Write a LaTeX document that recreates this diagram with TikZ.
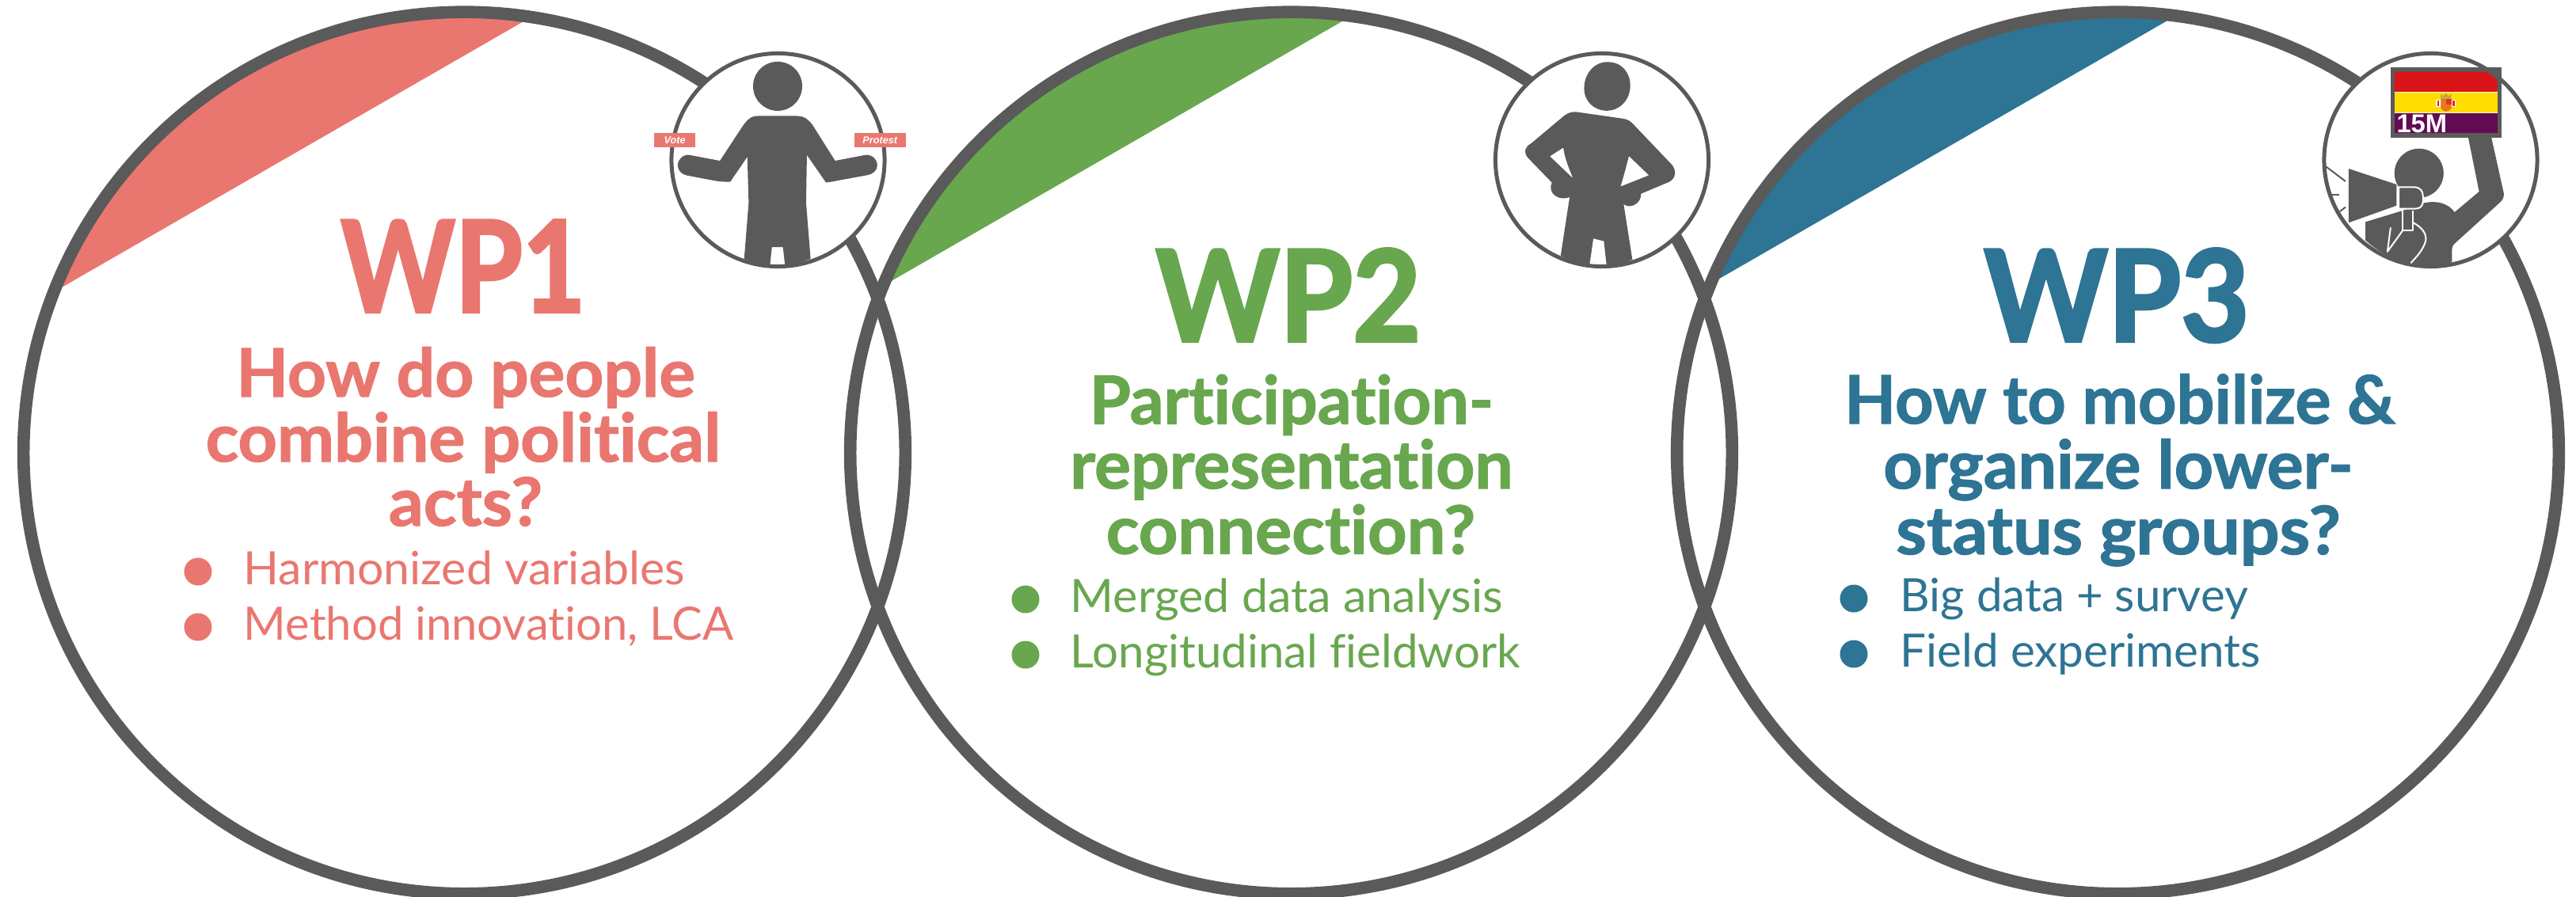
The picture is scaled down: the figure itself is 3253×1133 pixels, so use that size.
\documentclass[tikz,border=0pt]{standalone}
\usepackage{fontspec}
\usepackage{graphicx}
\newfontfamily\wplato{Lato}[Ligatures=NoCommon]
\newfontfamily\wpfat{Lato}[Ligatures=NoCommon,BoldFeatures={FakeBold=1.5}]
\newfontfamily\wpfatter{Lato}[Ligatures=NoCommon,BoldFeatures={FakeBold=2.5}]
\newfontfamily\wparial{Liberation Sans}
\definecolor{wpgrey}{HTML}{5A5A5A}
\definecolor{wppink}{HTML}{E97770}
\definecolor{wpgreen}{HTML}{68A74E}
\definecolor{wpblue}{HTML}{2E7494}
\newcommand{\fitx}[2]{\setbox0=\hbox{#2}\pgfmathsetmacro\fitr{#1*0.28453/\the\wd0}\scalebox{\fitr}[1]{\box0}}
\newcommand{\wpwedge}[3]{%
  \begin{scope}
    \clip (#1,572) circle [radius=5.565cm];
    \fill[#2] ({#1-586.5-22},{420.6+#3}) -- ({#1-586.5+756},{-27.6+#3}) -- ({#1-586.5-40},-60) -- cycle;
  \end{scope}}
\tikzset{
  bigring/.style={draw=wpgrey,line width=0.156cm},
  smallring/.style={draw=wpgrey,line width=0.05cm,fill=white},
  wptitle/.style={anchor=base,inner sep=0pt,font=\wpfatter\bfseries\fontsize{45.5}{45.5}\selectfont},
  wpq/.style={anchor=base,inner sep=0pt,font=\wpfat\bfseries\fontsize{24}{24}\selectfont},
  wpitem/.style={anchor=base west,inner sep=0pt,font=\wplato\fontsize{16.5}{16.5}\selectfont},
  iconfill/.style={fill=wpgrey},
  tagbox/.style={fill=wppink,inner sep=0pt,text=white,font=\wparial\bfseries\itshape\fontsize{3.6}{3.6}\selectfont},
  whiteline/.style={draw=white,line width=0.02cm,line join=round}
}
\begin{document}
\begin{tikzpicture}[x=0.01cm,y=-0.01cm]
\useasboundingbox (0,0) rectangle (3253,1133);
% wedges
\wpwedge{586.5}{wppink}{0}
\wpwedge{1630.5}{wpgreen}{-6}
\wpwedge{2674.5}{wpblue}{-8}
% big rings
\draw[bigring] (586.5,572) circle [radius=5.565cm];
\draw[bigring] (1630.5,572) circle [radius=5.565cm];
\draw[bigring] (2674.5,572) circle [radius=5.565cm];
% WP1 text
\node[wptitle,text=wppink] (wpa) at (585,394) {\fitx{309}{WP1}};
\node[wpq,text=wppink] (qa1) at (588,501) {\fitx{579}{How do people}};
\node[wpq,text=wppink] (qa2) at (585,583) {\fitx{650}{combine political}};
\node[wpq,text=wppink] (qa3) at (588,664) {\fitx{194}{acts?}};
\fill[wppink] (250,722) circle [radius=0.175cm];
\fill[wppink] (250,792) circle [radius=0.175cm];
\node[wpitem,text=wppink] (ia1) at (307,738) {\fitx{557}{Harmonized variables}};
\node[wpitem,text=wppink] (ia2) at (307,808) {\fitx{618}{Method innovation, LCA}};
% WP2 text
\node[wptitle,text=wpgreen] (wpb) at (1627,431) {\fitx{335}{WP2}};
\node[wpq,text=wpgreen] (qb1) at (1631,535.5) {\fitx{510}{Participation-}};
\node[wpq,text=wpgreen] (qb2) at (1631,617) {\fitx{559}{representation}};
\node[wpq,text=wpgreen] (qb3) at (1630,699.5) {\fitx{466}{connection?}};
\fill[wpgreen] (1295,757) circle [radius=0.175cm];
\fill[wpgreen] (1295,827) circle [radius=0.175cm];
\node[wpitem,text=wpgreen] (ib1) at (1351,773) {\fitx{546}{Merged data analysis}};
\node[wpitem,text=wpgreen] (ib2) at (1351,843) {\fitx{568}{Longitudinal fieldwork}};
% WP3 text
\node[wptitle,text=wpblue] (wpc) at (2673,431) {\fitx{335}{WP3}};
\node[wpq,text=wpblue] (qc1) at (2677,535) {\fitx{695}{How to mobilize \&}};
\node[wpq,text=wpblue] (qc2) at (2675,617) {\fitx{593}{organize lower-}};
\node[wpq,text=wpblue] (qc3) at (2675,700) {\fitx{561}{status groups?}};
\fill[wpblue] (2341,756) circle [radius=0.175cm];
\fill[wpblue] (2341,826) circle [radius=0.175cm];
\node[wpitem,text=wpblue] (ic1) at (2399,772) {\fitx{439}{Big data + survey}};
\node[wpitem,text=wpblue] (ic2) at (2399,842) {\fitx{455}{Field experiments}};
% small rings
\draw[smallring] (982.5,202) circle [radius=1.345cm];
\draw[smallring] (2023,202) circle [radius=1.345cm];
\draw[smallring] (3069.5,202) circle [radius=1.345cm];
% Person A
\begin{scope}[shift={(780,40)},x=0.0033333cm,y=-0.0033333cm]
\fill[iconfill] (607,207) circle [radius=0.31cm];
\fill[iconfill] (530,320) -- (680,320) .. controls (710,320) and (725,335) .. (740,355) -- (825,490) -- (940,468) .. controls (965,465) and (985,485) .. (985,507) .. controls (985,525) and (970,540) .. (950,544) -- (830,566) .. controls (810,570) and (800,572) .. (790,572) -- (718,468) -- (715,650) -- (732,862) .. controls (700,875) and (670,882) .. (635,886) -- (627,818) -- (585,818) -- (578,886) .. controls (545,882) and (510,875) .. (480,862) -- (497,650) -- (492,475) -- (427,570) .. controls (400,570) and (380,568) .. (370,566) -- (260,545) .. controls (240,540) and (228,525) .. (228,507) .. controls (228,485) and (248,465) .. (272,468) -- (388,490) -- (470,365) .. controls (490,335) and (505,320) .. (530,320) -- cycle;
\node[tagbox,minimum width=0.5233cm,minimum height=0.1867cm] (vote) at (216.5,412) {Vote};
\node[tagbox,minimum width=0.65cm,minimum height=0.1867cm] (protest) at (995.5,412) {Protest};
\end{scope}
% Person B
\begin{scope}[shift={(1860,40)},x=0.0033333cm,y=-0.0033333cm]
\fill[iconfill] (510,115) .. controls (565,115) and (597,155) .. (597,205) .. controls (597,260) and (555,300) .. (510,300) .. controls (460,300) and (422,265) .. (422,215) .. controls (422,160) and (460,115) .. (510,115) -- cycle;
\fill[iconfill,even odd rule] (395,305) -- (570,330) .. controls (585,332) and (600,340) .. (612,355) -- (755,505) .. controls (772,525) and (772,555) .. (745,570) -- (638,615) .. controls (640,650) and (600,675) .. (572,655) -- (605,865) .. controls (575,878) and (540,885) .. (507,885) -- (497,795) -- (457,785) -- (443,882) .. controls (405,880) and (365,868) .. (333,850) -- (367,628) .. controls (330,645) and (280,615) .. (300,573) -- (208,478) .. controls (190,455) and (200,435) .. (220,425) -- (345,320) .. controls (360,308) and (375,303) .. (395,305) -- cycle
 (292,473) -- (343,440) .. controls (348,480) and (365,520) .. (380,557) -- cycle
 (592,472) -- (668,545) -- (560,588) .. controls (572,550) and (582,510) .. (592,472) -- cycle;
\end{scope}
% Person C
\begin{scope}[shift={(2900,40)},x=0.0033333cm,y=-0.0033333cm]
\fill[iconfill] (465,537) circle [radius=0.31cm];
\fill[iconfill] (262,722) -- (400,680) -- (485,650) .. controls (530,640) and (575,650) .. (600,685) -- (693,607) -- (652,403) -- (740,403) -- (787,615) .. controls (788,630) and (780,642) .. (770,650) -- (605,800) .. controls (595,808) and (590,815) .. (590,830) -- (590,875) .. controls (535,892) and (480,892) .. (430,880) .. controls (370,868) and (310,835) .. (262,792) -- cycle;
% rays
\draw[wpgrey,line width=0.02cm] (112,512) -- (186,568);
\draw[wpgrey,line width=0.02cm] (132,618) -- (163,618);
\draw[wpgrey,line width=0.02cm] (165,682) -- (186,666);
% megaphone
\fill[iconfill] (198,520) -- (380,580) -- (380,660) -- (198,725) -- cycle;
\draw[whiteline] (262,715) -- (385,675);
% handle
\draw[whiteline,fill=wpgrey] (388,590) -- (445,590) .. controls (470,590) and (480,605) .. (480,625) -- (480,645) .. controls (480,662) and (468,672) .. (450,672) -- (388,672) -- cycle;
\draw[whiteline,fill=wpgrey] (403,680) -- (403,755) -- (443,755) -- (443,680);
\draw[whiteline,line cap=round] (443,725) .. controls (480,745) and (495,770) .. (490,795) .. controls (480,830) and (455,855) .. (435,877);
\draw[whiteline,line cap=round] (357,745) -- (345,835) -- (403,755);
% flag
\fill[iconfill] (358,135) rectangle (778,403);
\fill[white!85!yellow] (372,225) rectangle (762,310);
\fill[fill={rgb,255:red,218;green,20;blue,24}] (372,152) -- (720,152) -- (762,182) -- (762,228) -- (372,228) -- cycle;
\fill[fill={rgb,255:red,255;green,221;blue,0}] (372,231) rectangle (762,305);
\fill[fill={rgb,255:red,98;green,11;blue,84}] (372,308) rectangle (762,385);
% arms
\fill[fill={rgb,255:red,200;green,165;blue,70}] (548,258) -- (546,236) -- (557,244) -- (567,232) -- (577,244) -- (588,236) -- (586,258) -- cycle;
\fill[fill={rgb,255:red,230;green,120;blue,30}] (548,256) -- (588,256) -- (588,290) .. controls (585,298) and (575,302) .. (568,303) .. controls (560,302) and (551,298) .. (548,290) -- cycle;
\fill[fill={rgb,255:red,225;green,50;blue,40}] (568,256) rectangle (588,276);
\fill[white] (530,258) rectangle (547,285);
\fill[white] (589,258) rectangle (604,285);
\fill[fill={rgb,255:red,215;green,40;blue,35}] (534,262) rectangle (541,282);
\fill[fill={rgb,255:red,215;green,40;blue,35}] (593,262) rectangle (600,282);
\node[anchor=base west,inner sep=0pt,text=white,font=\wparial\bfseries\fontsize{9.3}{9.3}\selectfont] (flagtext) at (378,382) {15M};
\end{scope}
\end{tikzpicture}
\end{document}
